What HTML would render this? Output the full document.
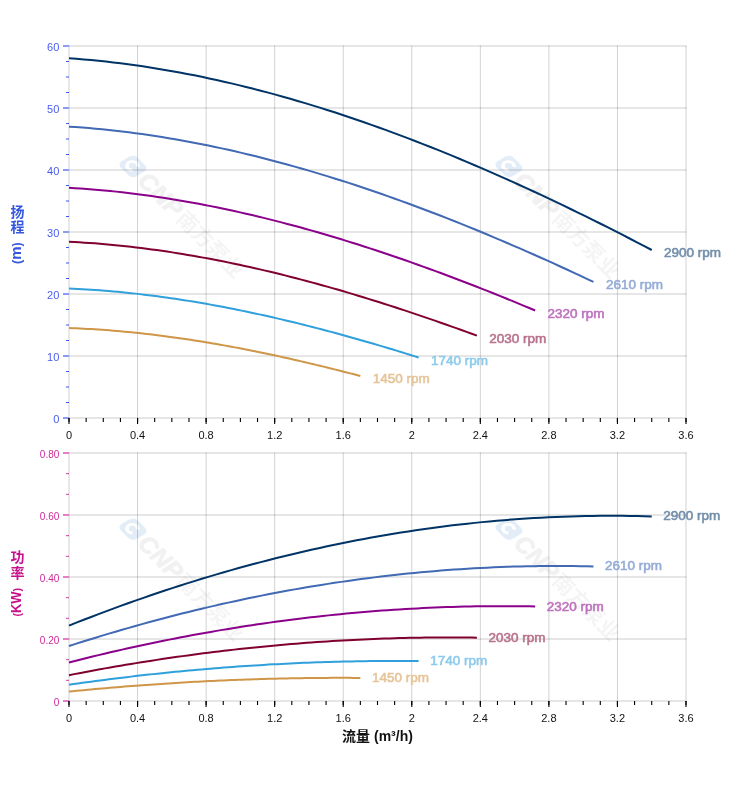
<!DOCTYPE html>
<html lang="zh"><head><meta charset="utf-8"><title>性能曲线</title>
<style>html,body{margin:0;padding:0;background:#fff}svg{display:block}</style></head>
<body>
<svg width="752" height="797" viewBox="0 0 752 797" font-family="'Liberation Sans', 'Noto Sans CJK SC', sans-serif">
<rect width="752" height="797" fill="#fff"/>
<g transform="translate(132.6,166.0) rotate(45)"><g transform="skewX(-14)"><rect x="-10" y="-9.5" width="21" height="19" rx="5" fill="#e3edf8"/><path d="M5,-4 A6.5,6.5 0 1 0 5,4 L2,2.2 A3.2,3.2 0 1 1 2,-2.2 Z" fill="#fff"/></g><text x="14" y="8.5" font-size="24" font-weight="bold" font-style="italic" fill="#000" stroke="#000" stroke-width="1.1" opacity="0.052" textLength="52" lengthAdjust="spacingAndGlyphs">CNP</text><text x="68" y="8" font-size="21" font-weight="bold" fill="#000" fill-opacity="0.043" textLength="85" lengthAdjust="spacingAndGlyphs">南方泵业</text></g>
<g transform="translate(508.6,166.0) rotate(45)"><g transform="skewX(-14)"><rect x="-10" y="-9.5" width="21" height="19" rx="5" fill="#e3edf8"/><path d="M5,-4 A6.5,6.5 0 1 0 5,4 L2,2.2 A3.2,3.2 0 1 1 2,-2.2 Z" fill="#fff"/></g><text x="14" y="8.5" font-size="24" font-weight="bold" font-style="italic" fill="#000" stroke="#000" stroke-width="1.1" opacity="0.052" textLength="52" lengthAdjust="spacingAndGlyphs">CNP</text><text x="68" y="8" font-size="21" font-weight="bold" fill="#000" fill-opacity="0.043" textLength="85" lengthAdjust="spacingAndGlyphs">南方泵业</text></g>
<g transform="translate(132.6,528.8) rotate(45)"><g transform="skewX(-14)"><rect x="-10" y="-9.5" width="21" height="19" rx="5" fill="#e3edf8"/><path d="M5,-4 A6.5,6.5 0 1 0 5,4 L2,2.2 A3.2,3.2 0 1 1 2,-2.2 Z" fill="#fff"/></g><text x="14" y="8.5" font-size="24" font-weight="bold" font-style="italic" fill="#000" stroke="#000" stroke-width="1.1" opacity="0.052" textLength="52" lengthAdjust="spacingAndGlyphs">CNP</text><text x="68" y="8" font-size="21" font-weight="bold" fill="#000" fill-opacity="0.043" textLength="85" lengthAdjust="spacingAndGlyphs">南方泵业</text></g>
<g transform="translate(508.6,528.8) rotate(45)"><g transform="skewX(-14)"><rect x="-10" y="-9.5" width="21" height="19" rx="5" fill="#e3edf8"/><path d="M5,-4 A6.5,6.5 0 1 0 5,4 L2,2.2 A3.2,3.2 0 1 1 2,-2.2 Z" fill="#fff"/></g><text x="14" y="8.5" font-size="24" font-weight="bold" font-style="italic" fill="#000" stroke="#000" stroke-width="1.1" opacity="0.052" textLength="52" lengthAdjust="spacingAndGlyphs">CNP</text><text x="68" y="8" font-size="21" font-weight="bold" fill="#000" fill-opacity="0.043" textLength="85" lengthAdjust="spacingAndGlyphs">南方泵业</text></g>
<path d="M69.00,45.5V418.5 M137.56,45.5V418.5 M206.11,45.5V418.5 M274.67,45.5V418.5 M343.22,45.5V418.5 M411.78,45.5V418.5 M480.33,45.5V418.5 M548.89,45.5V418.5 M617.44,45.5V418.5 M686.00,45.5V418.5" stroke="#000" stroke-opacity="0.18" stroke-width="1" fill="none"/>
<path d="M68.5,418.00H686.5 M68.5,356.00H686.5 M68.5,294.00H686.5 M68.5,232.00H686.5 M68.5,170.00H686.5 M68.5,108.00H686.5 M68.5,46.00H686.5" stroke="#000" stroke-opacity="0.2" stroke-width="1" fill="none"/>
<path d="M63.0,418.00H69.0 M63.0,356.00H69.0 M63.0,294.00H69.0 M63.0,232.00H69.0 M63.0,170.00H69.0 M63.0,108.00H69.0 M63.0,46.00H69.0" stroke="#8d9bf0" stroke-width="2" fill="none"/>
<path d="M66.0,402.50H69.0 M66.0,387.00H69.0 M66.0,371.50H69.0 M66.0,340.50H69.0 M66.0,325.00H69.0 M66.0,309.50H69.0 M66.0,278.50H69.0 M66.0,263.00H69.0 M66.0,247.50H69.0 M66.0,216.50H69.0 M66.0,201.00H69.0 M66.0,185.50H69.0 M66.0,154.50H69.0 M66.0,139.00H69.0 M66.0,123.50H69.0 M66.0,92.50H69.0 M66.0,77.00H69.0 M66.0,61.50H69.0" stroke="#3d55ee" stroke-width="1" fill="none"/>
<g font-size="11" fill="#4a5cf0" text-anchor="end">
<text x="59.3" y="423.0">0</text>
<text x="59.3" y="361.0">10</text>
<text x="59.3" y="299.0">20</text>
<text x="59.3" y="237.0">30</text>
<text x="59.3" y="175.0">40</text>
<text x="59.3" y="113.0">50</text>
<text x="59.3" y="51.0">60</text>
</g>
<path d="M69.00,418.0v6 M137.56,418.0v6 M206.11,418.0v6 M274.67,418.0v6 M343.22,418.0v6 M411.78,418.0v6 M480.33,418.0v6 M548.89,418.0v6 M617.44,418.0v6 M686.00,418.0v6" stroke="#000" stroke-width="1.1" fill="none"/>
<path d="M69.00,418.0v4 M86.14,418.0v4 M103.28,418.0v4 M120.42,418.0v4 M137.56,418.0v4 M154.69,418.0v4 M171.83,418.0v4 M188.97,418.0v4 M206.11,418.0v4 M223.25,418.0v4 M240.39,418.0v4 M257.53,418.0v4 M274.67,418.0v4 M291.81,418.0v4 M308.94,418.0v4 M326.08,418.0v4 M343.22,418.0v4 M360.36,418.0v4 M377.50,418.0v4 M394.64,418.0v4 M411.78,418.0v4 M428.92,418.0v4 M446.06,418.0v4 M463.19,418.0v4 M480.33,418.0v4 M497.47,418.0v4 M514.61,418.0v4 M531.75,418.0v4 M548.89,418.0v4 M566.03,418.0v4 M583.17,418.0v4 M600.31,418.0v4 M617.44,418.0v4 M634.58,418.0v4 M651.72,418.0v4 M668.86,418.0v4 M686.00,418.0v4" stroke="#000" stroke-width="1.1" fill="none"/>
<g font-size="11" fill="#111" text-anchor="middle">
<text x="69.0" y="438.7">0</text>
<text x="137.6" y="438.7">0.4</text>
<text x="206.1" y="438.7">0.8</text>
<text x="274.7" y="438.7">1.2</text>
<text x="343.2" y="438.7">1.6</text>
<text x="411.8" y="438.7">2</text>
<text x="480.3" y="438.7">2.4</text>
<text x="548.9" y="438.7">2.8</text>
<text x="617.4" y="438.7">3.2</text>
<text x="686.0" y="438.7">3.6</text>
</g>
<polyline points="69.00,58.28 76.38,58.83 83.75,59.43 91.13,60.09 98.50,60.82 105.88,61.60 113.26,62.43 120.63,63.33 128.01,64.28 135.39,65.29 142.76,66.36 150.14,67.48 157.51,68.66 164.89,69.89 172.27,71.17 179.64,72.51 187.02,73.91 194.40,75.35 201.77,76.85 209.15,78.40 216.52,80.01 223.90,81.66 231.28,83.37 238.65,85.12 246.03,86.93 253.41,88.78 260.78,90.68 268.16,92.64 275.53,94.64 282.91,96.69 290.29,98.78 297.66,100.92 305.04,103.11 312.42,105.35 319.79,107.63 327.17,109.95 334.54,112.32 341.92,114.74 349.30,117.19 356.67,119.69 364.05,122.24 371.43,124.82 378.80,127.45 386.18,130.12 393.55,132.83 400.93,135.58 408.31,138.37 415.68,141.20 423.06,144.07 430.44,146.97 437.81,149.92 445.19,152.91 452.56,155.93 459.94,158.98 467.32,162.08 474.69,165.21 482.07,168.38 489.45,171.58 496.82,174.81 504.20,178.08 511.57,181.39 518.95,184.73 526.33,188.10 533.70,191.50 541.08,194.93 548.45,198.40 555.83,201.90 563.21,205.43 570.58,208.98 577.96,212.57 585.34,216.19 592.71,219.84 600.09,223.51 607.46,227.21 614.84,230.94 622.22,234.70 629.59,238.49 636.97,242.30 644.35,246.13 651.72,249.99" fill="none" stroke="#003366" stroke-width="2" stroke-linejoin="round"/>
<polyline points="69.00,126.63 75.64,127.07 82.28,127.56 88.92,128.10 95.55,128.68 102.19,129.31 108.83,129.99 115.47,130.72 122.11,131.49 128.75,132.31 135.39,133.17 142.02,134.08 148.66,135.03 155.30,136.03 161.94,137.07 168.58,138.16 175.22,139.28 181.86,140.46 188.49,141.67 195.13,142.93 201.77,144.23 208.41,145.56 215.05,146.95 221.69,148.37 228.33,149.83 234.97,151.33 241.60,152.87 248.24,154.46 254.88,156.08 261.52,157.74 268.16,159.43 274.80,161.17 281.44,162.94 288.07,164.75 294.71,166.60 301.35,168.48 307.99,170.40 314.63,172.36 321.27,174.35 327.91,176.37 334.54,178.43 341.18,180.53 347.82,182.65 354.46,184.82 361.10,187.01 367.74,189.24 374.38,191.50 381.01,193.79 387.65,196.11 394.29,198.47 400.93,200.86 407.57,203.27 414.21,205.72 420.85,208.20 427.48,210.70 434.12,213.24 440.76,215.80 447.40,218.40 454.04,221.02 460.68,223.67 467.32,226.34 473.96,229.05 480.59,231.78 487.23,234.53 493.87,237.32 500.51,240.12 507.15,242.96 513.79,245.82 520.43,248.70 527.06,251.60 533.70,254.53 540.34,257.49 546.98,260.46 553.62,263.46 560.26,266.49 566.90,269.53 573.53,272.59 580.17,275.68 586.81,278.79 593.45,281.91" fill="none" stroke="#4169b4" stroke-width="2" stroke-linejoin="round"/>
<polyline points="69.00,187.78 74.90,188.13 80.80,188.52 86.70,188.94 92.60,189.40 98.50,189.90 104.41,190.44 110.31,191.01 116.21,191.62 122.11,192.27 128.01,192.95 133.91,193.67 139.81,194.42 145.71,195.21 151.61,196.03 157.51,196.89 163.42,197.78 169.32,198.71 175.22,199.67 181.12,200.66 187.02,201.68 192.92,202.74 198.82,203.83 204.72,204.96 210.62,206.11 216.52,207.30 222.43,208.52 228.33,209.77 234.23,211.05 240.13,212.36 246.03,213.70 251.93,215.07 257.83,216.47 263.73,217.90 269.63,219.36 275.53,220.85 281.44,222.37 287.34,223.91 293.24,225.48 299.14,227.08 305.04,228.71 310.94,230.37 316.84,232.05 322.74,233.76 328.64,235.49 334.54,237.25 340.45,239.04 346.35,240.85 352.25,242.68 358.15,244.54 364.05,246.43 369.95,248.34 375.85,250.27 381.75,252.23 387.65,254.21 393.55,256.21 399.46,258.24 405.36,260.29 411.26,262.36 417.16,264.45 423.06,266.57 428.96,268.70 434.86,270.86 440.76,273.04 446.66,275.24 452.56,277.46 458.46,279.69 464.37,281.95 470.27,284.23 476.17,286.53 482.07,288.84 487.97,291.18 493.87,293.53 499.77,295.90 505.67,298.28 511.57,300.69 517.47,303.11 523.38,305.55 529.28,308.00 535.18,310.48" fill="none" stroke="#8b008b" stroke-width="2" stroke-linejoin="round"/>
<polyline points="69.00,241.74 74.16,242.01 79.33,242.30 84.49,242.63 89.65,242.98 94.82,243.36 99.98,243.77 105.14,244.21 110.31,244.68 115.47,245.17 120.63,245.70 125.80,246.24 130.96,246.82 136.12,247.42 141.29,248.05 146.45,248.71 151.61,249.39 156.78,250.10 161.94,250.84 167.10,251.60 172.27,252.38 177.43,253.19 182.59,254.03 187.76,254.89 192.92,255.77 198.08,256.68 203.25,257.62 208.41,258.57 213.57,259.55 218.74,260.56 223.90,261.58 229.06,262.63 234.23,263.71 239.39,264.80 244.55,265.92 249.72,267.06 254.88,268.22 260.04,269.40 265.21,270.60 270.37,271.83 275.53,273.08 280.70,274.34 285.86,275.63 291.02,276.94 296.19,278.27 301.35,279.61 306.51,280.98 311.68,282.37 316.84,283.77 322.00,285.20 327.17,286.64 332.33,288.10 337.49,289.58 342.66,291.08 347.82,292.60 352.98,294.13 358.15,295.68 363.31,297.25 368.47,298.84 373.64,300.44 378.80,302.06 383.97,303.70 389.13,305.35 394.29,307.01 399.46,308.70 404.62,310.40 409.78,312.11 414.95,313.84 420.11,315.58 425.27,317.34 430.44,319.11 435.60,320.90 440.76,322.70 445.93,324.52 451.09,326.34 456.25,328.18 461.42,330.04 466.58,331.90 471.74,333.78 476.91,335.68" fill="none" stroke="#800030" stroke-width="2" stroke-linejoin="round"/>
<polyline points="69.00,288.50 73.43,288.70 77.85,288.92 82.28,289.15 86.70,289.41 91.13,289.69 95.55,290.00 99.98,290.32 104.41,290.66 108.83,291.03 113.26,291.41 117.68,291.81 122.11,292.24 126.53,292.68 130.96,293.14 135.39,293.62 139.81,294.13 144.24,294.65 148.66,295.19 153.09,295.75 157.51,296.32 161.94,296.92 166.37,297.53 170.79,298.16 175.22,298.81 179.64,299.48 184.07,300.17 188.49,300.87 192.92,301.59 197.35,302.33 201.77,303.08 206.20,303.85 210.62,304.64 215.05,305.44 219.48,306.27 223.90,307.10 228.33,307.96 232.75,308.82 237.18,309.71 241.60,310.61 246.03,311.52 250.46,312.46 254.88,313.40 259.31,314.36 263.73,315.34 268.16,316.33 272.58,317.33 277.01,318.35 281.44,319.38 285.86,320.43 290.29,321.49 294.71,322.57 299.14,323.65 303.56,324.75 307.99,325.87 312.42,327.00 316.84,328.14 321.27,329.29 325.69,330.45 330.12,331.63 334.54,332.82 338.97,334.02 343.40,335.23 347.82,336.46 352.25,337.70 356.67,338.94 361.10,340.20 365.52,341.47 369.95,342.75 374.38,344.05 378.80,345.35 383.23,346.66 387.65,347.98 392.08,349.32 396.50,350.66 400.93,352.01 405.36,353.37 409.78,354.75 414.21,356.13 418.63,357.52" fill="none" stroke="#30a0dc" stroke-width="2" stroke-linejoin="round"/>
<polyline points="69.00,328.07 72.69,328.21 76.38,328.36 80.06,328.52 83.75,328.70 87.44,328.90 91.13,329.11 94.82,329.33 98.50,329.57 102.19,329.82 105.88,330.09 109.57,330.37 113.26,330.66 116.95,330.97 120.63,331.29 124.32,331.63 128.01,331.98 131.70,332.34 135.39,332.71 139.07,333.10 142.76,333.50 146.45,333.92 150.14,334.34 153.83,334.78 157.51,335.23 161.20,335.70 164.89,336.17 168.58,336.66 172.27,337.16 175.96,337.67 179.64,338.20 183.33,338.73 187.02,339.28 190.71,339.84 194.40,340.41 198.08,340.99 201.77,341.58 205.46,342.18 209.15,342.80 212.84,343.42 216.52,344.06 220.21,344.71 223.90,345.36 227.59,346.03 231.28,346.71 234.97,347.39 238.65,348.09 242.34,348.80 246.03,349.52 249.72,350.24 253.41,350.98 257.09,351.73 260.78,352.48 264.47,353.25 268.16,354.02 271.85,354.80 275.53,355.59 279.22,356.39 282.91,357.20 286.60,358.02 290.29,358.85 293.98,359.68 297.66,360.52 301.35,361.37 305.04,362.23 308.73,363.10 312.42,363.97 316.10,364.86 319.79,365.75 323.48,366.64 327.17,367.55 330.86,368.46 334.54,369.38 338.23,370.30 341.92,371.24 345.61,372.18 349.30,373.12 352.98,374.07 356.67,375.03 360.36,376.00" fill="none" stroke="#cf9648" stroke-width="2" stroke-linejoin="round"/>
<path d="M69.00,452.5V701.5 M137.56,452.5V701.5 M206.11,452.5V701.5 M274.67,452.5V701.5 M343.22,452.5V701.5 M411.78,452.5V701.5 M480.33,452.5V701.5 M548.89,452.5V701.5 M617.44,452.5V701.5 M686.00,452.5V701.5" stroke="#000" stroke-opacity="0.18" stroke-width="1" fill="none"/>
<path d="M68.5,701.00H686.5 M68.5,639.00H686.5 M68.5,577.00H686.5 M68.5,515.00H686.5 M68.5,453.00H686.5" stroke="#000" stroke-opacity="0.2" stroke-width="1" fill="none"/>
<path d="M63.0,701.00H69.0 M63.0,639.00H69.0 M63.0,577.00H69.0 M63.0,515.00H69.0 M63.0,453.00H69.0" stroke="#e57fc4" stroke-width="2" fill="none"/>
<path d="M66.0,680.33H69.0 M66.0,659.67H69.0 M66.0,618.33H69.0 M66.0,597.67H69.0 M66.0,556.33H69.0 M66.0,535.67H69.0 M66.0,494.33H69.0 M66.0,473.67H69.0" stroke="#d63aa0" stroke-width="1" fill="none"/>
<g font-size="10" fill="#cf2a98" text-anchor="end">
<text x="59.3" y="706.0">0</text>
<text x="59.3" y="644.0">0.20</text>
<text x="59.3" y="582.0">0.40</text>
<text x="59.3" y="520.0">0.60</text>
<text x="59.3" y="458.0">0.80</text>
</g>
<path d="M69.00,701.0v6 M137.56,701.0v6 M206.11,701.0v6 M274.67,701.0v6 M343.22,701.0v6 M411.78,701.0v6 M480.33,701.0v6 M548.89,701.0v6 M617.44,701.0v6 M686.00,701.0v6" stroke="#000" stroke-width="1.1" fill="none"/>
<path d="M69.00,701.0v4 M86.14,701.0v4 M103.28,701.0v4 M120.42,701.0v4 M137.56,701.0v4 M154.69,701.0v4 M171.83,701.0v4 M188.97,701.0v4 M206.11,701.0v4 M223.25,701.0v4 M240.39,701.0v4 M257.53,701.0v4 M274.67,701.0v4 M291.81,701.0v4 M308.94,701.0v4 M326.08,701.0v4 M343.22,701.0v4 M360.36,701.0v4 M377.50,701.0v4 M394.64,701.0v4 M411.78,701.0v4 M428.92,701.0v4 M446.06,701.0v4 M463.19,701.0v4 M480.33,701.0v4 M497.47,701.0v4 M514.61,701.0v4 M531.75,701.0v4 M548.89,701.0v4 M566.03,701.0v4 M583.17,701.0v4 M600.31,701.0v4 M617.44,701.0v4 M634.58,701.0v4 M651.72,701.0v4 M668.86,701.0v4 M686.00,701.0v4" stroke="#000" stroke-width="1.1" fill="none"/>
<g font-size="11" fill="#111" text-anchor="middle">
<text x="69.0" y="721.7">0</text>
<text x="137.6" y="721.7">0.4</text>
<text x="206.1" y="721.7">0.8</text>
<text x="274.7" y="721.7">1.2</text>
<text x="343.2" y="721.7">1.6</text>
<text x="411.8" y="721.7">2</text>
<text x="480.3" y="721.7">2.4</text>
<text x="548.9" y="721.7">2.8</text>
<text x="617.4" y="721.7">3.2</text>
<text x="686.0" y="721.7">3.6</text>
</g>
<polyline points="69.00,625.62 76.38,622.69 83.75,619.80 91.13,616.95 98.50,614.14 105.88,611.37 113.26,608.63 120.63,605.93 128.01,603.28 135.39,600.66 142.76,598.07 150.14,595.53 157.51,593.03 164.89,590.57 172.27,588.14 179.64,585.76 187.02,583.41 194.40,581.10 201.77,578.83 209.15,576.60 216.52,574.41 223.90,572.26 231.28,570.15 238.65,568.08 246.03,566.05 253.41,564.05 260.78,562.10 268.16,560.19 275.53,558.31 282.91,556.48 290.29,554.68 297.66,552.93 305.04,551.21 312.42,549.54 319.79,547.90 327.17,546.31 334.54,544.75 341.92,543.24 349.30,541.76 356.67,540.33 364.05,538.93 371.43,537.58 378.80,536.27 386.18,534.99 393.55,533.76 400.93,532.57 408.31,531.41 415.68,530.30 423.06,529.23 430.44,528.20 437.81,527.21 445.19,526.26 452.56,525.35 459.94,524.48 467.32,523.65 474.69,522.87 482.07,522.12 489.45,521.42 496.82,520.75 504.20,520.13 511.57,519.55 518.95,519.01 526.33,518.51 533.70,518.05 541.08,517.64 548.45,517.26 555.83,516.93 563.21,516.64 570.58,516.39 577.96,516.18 585.34,516.01 592.71,515.88 600.09,515.80 607.46,515.76 614.84,515.76 622.22,515.80 629.59,515.88 636.97,516.00 644.35,516.17 651.72,516.38" fill="none" stroke="#003366" stroke-width="2" stroke-linejoin="round"/>
<polyline points="69.00,646.05 75.64,643.92 82.28,641.81 88.92,639.73 95.55,637.68 102.19,635.66 108.83,633.66 115.47,631.70 122.11,629.76 128.75,627.85 135.39,625.97 142.02,624.11 148.66,622.29 155.30,620.49 161.94,618.73 168.58,616.99 175.22,615.28 181.86,613.59 188.49,611.94 195.13,610.31 201.77,608.72 208.41,607.15 215.05,605.61 221.69,604.10 228.33,602.62 234.97,601.17 241.60,599.74 248.24,598.35 254.88,596.98 261.52,595.64 268.16,594.34 274.80,593.06 281.44,591.81 288.07,590.59 294.71,589.39 301.35,588.23 307.99,587.10 314.63,585.99 321.27,584.92 327.91,583.87 334.54,582.85 341.18,581.87 347.82,580.91 354.46,579.98 361.10,579.08 367.74,578.21 374.38,577.37 381.01,576.56 387.65,575.78 394.29,575.03 400.93,574.31 407.57,573.61 414.21,572.95 420.85,572.32 427.48,571.71 434.12,571.14 440.76,570.60 447.40,570.08 454.04,569.60 460.68,569.15 467.32,568.72 473.96,568.33 480.59,567.97 487.23,567.63 493.87,567.33 500.51,567.06 507.15,566.81 513.79,566.60 520.43,566.42 527.06,566.26 533.70,566.14 540.34,566.05 546.98,565.99 553.62,565.96 560.26,565.96 566.90,565.99 573.53,566.05 580.17,566.14 586.81,566.26 593.45,566.41" fill="none" stroke="#4169b4" stroke-width="2" stroke-linejoin="round"/>
<polyline points="69.00,662.41 74.90,660.91 80.80,659.43 86.70,657.97 92.60,656.53 98.50,655.11 104.41,653.71 110.31,652.33 116.21,650.96 122.11,649.62 128.01,648.30 133.91,647.00 139.81,645.72 145.71,644.46 151.61,643.22 157.51,641.99 163.42,640.79 169.32,639.61 175.22,638.45 181.12,637.31 187.02,636.19 192.92,635.09 198.82,634.01 204.72,632.94 210.62,631.90 216.52,630.88 222.43,629.88 228.33,628.90 234.23,627.94 240.13,627.01 246.03,626.09 251.93,625.19 257.83,624.31 263.73,623.45 269.63,622.62 275.53,621.80 281.44,621.00 287.34,620.23 293.24,619.47 299.14,618.74 305.04,618.02 310.94,617.33 316.84,616.66 322.74,616.00 328.64,615.37 334.54,614.76 340.45,614.17 346.35,613.60 352.25,613.05 358.15,612.53 364.05,612.02 369.95,611.53 375.85,611.07 381.75,610.62 387.65,610.20 393.55,609.80 399.46,609.41 405.36,609.05 411.26,608.71 417.16,608.40 423.06,608.10 428.96,607.82 434.86,607.57 440.76,607.33 446.66,607.12 452.56,606.93 458.46,606.76 464.37,606.61 470.27,606.48 476.17,606.37 482.07,606.28 487.97,606.22 493.87,606.18 499.77,606.16 505.67,606.15 511.57,606.18 517.47,606.22 523.38,606.28 529.28,606.37 535.18,606.47" fill="none" stroke="#8b008b" stroke-width="2" stroke-linejoin="round"/>
<polyline points="69.00,675.15 74.16,674.14 79.33,673.15 84.49,672.17 89.65,671.21 94.82,670.26 99.98,669.32 105.14,668.39 110.31,667.48 115.47,666.58 120.63,665.70 125.80,664.82 130.96,663.97 136.12,663.12 141.29,662.29 146.45,661.47 151.61,660.67 156.78,659.87 161.94,659.10 167.10,658.33 172.27,657.58 177.43,656.84 182.59,656.12 187.76,655.41 192.92,654.71 198.08,654.03 203.25,653.36 208.41,652.70 213.57,652.06 218.74,651.43 223.90,650.81 229.06,650.21 234.23,649.62 239.39,649.05 244.55,648.49 249.72,647.94 254.88,647.41 260.04,646.89 265.21,646.38 270.37,645.89 275.53,645.41 280.70,644.95 285.86,644.50 291.02,644.06 296.19,643.64 301.35,643.23 306.51,642.83 311.68,642.45 316.84,642.08 322.00,641.73 327.17,641.39 332.33,641.06 337.49,640.75 342.66,640.45 347.82,640.17 352.98,639.90 358.15,639.64 363.31,639.40 368.47,639.18 373.64,638.96 378.80,638.76 383.97,638.58 389.13,638.41 394.29,638.25 399.46,638.11 404.62,637.98 409.78,637.86 414.95,637.76 420.11,637.68 425.27,637.61 430.44,637.55 435.60,637.51 440.76,637.48 445.93,637.46 451.09,637.46 456.25,637.48 461.42,637.50 466.58,637.55 471.74,637.60 476.91,637.67" fill="none" stroke="#800030" stroke-width="2" stroke-linejoin="round"/>
<polyline points="69.00,684.72 73.43,684.09 77.85,683.46 82.28,682.85 86.70,682.24 91.13,681.64 95.55,681.05 99.98,680.47 104.41,679.89 108.83,679.33 113.26,678.77 117.68,678.22 122.11,677.68 126.53,677.15 130.96,676.62 135.39,676.11 139.81,675.60 144.24,675.10 148.66,674.61 153.09,674.13 157.51,673.66 161.94,673.19 166.37,672.74 170.79,672.29 175.22,671.85 179.64,671.42 184.07,671.00 188.49,670.58 192.92,670.18 197.35,669.78 201.77,669.40 206.20,669.02 210.62,668.65 215.05,668.28 219.48,667.93 223.90,667.59 228.33,667.25 232.75,666.92 237.18,666.60 241.60,666.30 246.03,665.99 250.46,665.70 254.88,665.42 259.31,665.14 263.73,664.88 268.16,664.62 272.58,664.37 277.01,664.13 281.44,663.90 285.86,663.67 290.29,663.46 294.71,663.26 299.14,663.06 303.56,662.87 307.99,662.69 312.42,662.52 316.84,662.36 321.27,662.21 325.69,662.07 330.12,661.93 334.54,661.81 338.97,661.69 343.40,661.58 347.82,661.48 352.25,661.39 356.67,661.31 361.10,661.24 365.52,661.18 369.95,661.12 374.38,661.08 378.80,661.04 383.23,661.01 387.65,661.00 392.08,660.99 396.50,660.99 400.93,661.00 405.36,661.01 409.78,661.04 414.21,661.08 418.63,661.12" fill="none" stroke="#30a0dc" stroke-width="2" stroke-linejoin="round"/>
<polyline points="69.00,691.58 72.69,691.21 76.38,690.85 80.06,690.49 83.75,690.14 87.44,689.80 91.13,689.45 94.82,689.12 98.50,688.78 102.19,688.46 105.88,688.13 109.57,687.82 113.26,687.50 116.95,687.20 120.63,686.89 124.32,686.59 128.01,686.30 131.70,686.01 135.39,685.73 139.07,685.45 142.76,685.18 146.45,684.91 150.14,684.64 153.83,684.38 157.51,684.13 161.20,683.88 164.89,683.64 168.58,683.40 172.27,683.16 175.96,682.93 179.64,682.71 183.33,682.49 187.02,682.28 190.71,682.07 194.40,681.86 198.08,681.66 201.77,681.47 205.46,681.28 209.15,681.10 212.84,680.92 216.52,680.74 220.21,680.57 223.90,680.41 227.59,680.25 231.28,680.09 234.97,679.95 238.65,679.80 242.34,679.66 246.03,679.53 249.72,679.40 253.41,679.28 257.09,679.16 260.78,679.04 264.47,678.94 268.16,678.83 271.85,678.73 275.53,678.64 279.22,678.55 282.91,678.47 286.60,678.39 290.29,678.32 293.98,678.25 297.66,678.19 301.35,678.13 305.04,678.08 308.73,678.03 312.42,677.99 316.10,677.95 319.79,677.92 323.48,677.90 327.17,677.88 330.86,677.86 334.54,677.85 338.23,677.84 341.92,677.84 345.61,677.85 349.30,677.86 352.98,677.88 356.67,677.90 360.36,677.92" fill="none" stroke="#cf9648" stroke-width="2" stroke-linejoin="round"/>
<g font-size="13" stroke-width="0.6" stroke-linejoin="round">
<text x="664.1" y="257.2" fill="#738fab" stroke="#738fab" textLength="57" lengthAdjust="spacingAndGlyphs">2900 rpm</text>
<text x="605.9" y="289.1" fill="#96acd6" stroke="#96acd6" textLength="57" lengthAdjust="spacingAndGlyphs">2610 rpm</text>
<text x="547.6" y="317.7" fill="#bf73bf" stroke="#bf73bf" textLength="57" lengthAdjust="spacingAndGlyphs">2320 rpm</text>
<text x="489.3" y="342.9" fill="#b9738d" stroke="#b9738d" textLength="57" lengthAdjust="spacingAndGlyphs">2030 rpm</text>
<text x="431.0" y="364.7" fill="#8dcbec" stroke="#8dcbec" textLength="57" lengthAdjust="spacingAndGlyphs">1740 rpm</text>
<text x="372.8" y="383.2" fill="#e5c59a" stroke="#e5c59a" textLength="57" lengthAdjust="spacingAndGlyphs">1450 rpm</text>
<text x="663.3" y="520.4" fill="#738fab" stroke="#738fab" textLength="57" lengthAdjust="spacingAndGlyphs">2900 rpm</text>
<text x="605.1" y="570.4" fill="#96acd6" stroke="#96acd6" textLength="57" lengthAdjust="spacingAndGlyphs">2610 rpm</text>
<text x="546.8" y="610.5" fill="#bf73bf" stroke="#bf73bf" textLength="57" lengthAdjust="spacingAndGlyphs">2320 rpm</text>
<text x="488.5" y="641.7" fill="#b9738d" stroke="#b9738d" textLength="57" lengthAdjust="spacingAndGlyphs">2030 rpm</text>
<text x="430.2" y="665.1" fill="#8dcbec" stroke="#8dcbec" textLength="57" lengthAdjust="spacingAndGlyphs">1740 rpm</text>
<text x="372.0" y="681.9" fill="#e5c59a" stroke="#e5c59a" textLength="57" lengthAdjust="spacingAndGlyphs">1450 rpm</text>
</g>
<text x="377.5" y="741" font-size="14" font-weight="bold" fill="#111" text-anchor="middle">流量 (m³/h)</text>
<g font-size="14" font-weight="bold" fill="#3355e0">
<text x="16.6" y="204.3" style="writing-mode:vertical-rl;letter-spacing:1.4px">扬程</text>
<text transform="translate(21.2,264) rotate(-90)" font-size="15"><tspan font-size="12.5" dy="-0.3">(</tspan><tspan dy="0.3">m</tspan><tspan font-size="12.5" dy="-0.3">)</tspan></text>
</g>
<g font-size="14" font-weight="bold" fill="#c8108c">
<text x="16.5" y="549.5" style="writing-mode:vertical-rl;letter-spacing:1.7px">功率</text>
<text transform="translate(21.4,616.5) rotate(-90)" font-size="14" textLength="28.6" lengthAdjust="spacingAndGlyphs"><tspan font-size="11.5" dy="-0.6">(</tspan><tspan dy="0.6">KW</tspan><tspan font-size="11.5" dy="-0.6">)</tspan></text>
</g>
</svg>
</body></html>
